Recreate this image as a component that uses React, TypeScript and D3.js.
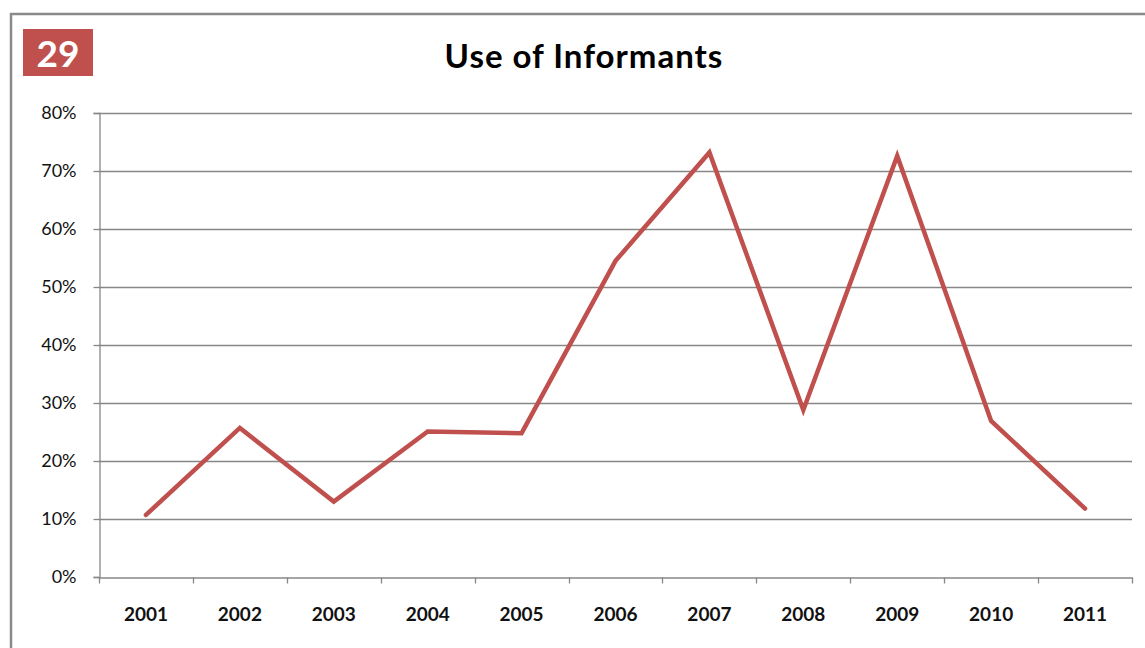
import * as d3 from 'd3';
import { useEffect, useRef } from 'react';

const years = ['2001', '2002', '2003', '2004', '2005', '2006', '2007', '2008', '2009', '2010', '2011'];
const informantShare = [10.7, 25.7, 13.0, 25.1, 24.8, 54.5, 73.2, 28.8, 72.6, 26.9, 11.8];
const yTicks = [0, 10, 20, 30, 40, 50, 60, 70, 80];

const chartTitle = 'Use of Informants';
const slideNumber = '29';

const W = 1145;
const H = 648;
const RED = '#C0504D';
const GREY = '#878787';

export default function App() {
	const ref = useRef<SVGSVGElement>(null);

	useEffect(() => {
		const svg = d3.select(ref.current);
		svg.selectAll('*').remove();

		// рамка слайда
		svg
			.append('rect')
			.attr('x', 11)
			.attr('y', 14)
			.attr('width', W + 20)
			.attr('height', H + 20)
			.attr('fill', 'white')
			.attr('stroke', '#8a8a8a')
			.attr('stroke-width', 2.5);

		// номер слайда
		svg.append('rect').attr('x', 23).attr('y', 29).attr('width', 70).attr('height', 47).attr('fill', RED);
		svg
			.append('text')
			.attr('x', 58)
			.attr('y', 67)
			.attr('text-anchor', 'middle')
			.attr('fill', 'white')
			.style('font', 'bold 37px Lato, "Open Sans", sans-serif')
			.text(slideNumber);

		svg
			.append('text')
			.attr('x', 584)
			.attr('y', 68)
			.attr('text-anchor', 'middle')
			.attr('fill', '#000')
			.style('font', 'bold 33px Lato, "Open Sans", sans-serif')
			.style('letter-spacing', '1px')
			.text(chartTitle);

		const margin = { left: 99, right: 1132, top: 113, bottom: 577 };

		const x = d3.scaleBand<string>().domain(years).range([margin.left, margin.right]);
		const y = d3.scaleLinear().domain([0, 80]).range([margin.bottom, margin.top]);

		// сетка
		svg
			.append('g')
			.selectAll('line')
			.data(yTicks.filter((t) => t > 0))
			.enter()
			.append('line')
			.attr('x1', margin.left)
			.attr('x2', margin.right)
			.attr('y1', (d) => Math.round(y(d)) + 0.5)
			.attr('y2', (d) => Math.round(y(d)) + 0.5)
			.attr('stroke', GREY)
			.attr('stroke-width', 1.3);

		// ось Y
		const yAxis = d3
			.axisLeft(y)
			.tickValues(yTicks)
			.tickSize(6)
			.tickPadding(17)
			.tickFormat((d) => `${d}%`);
		const gy = svg.append('g').attr('transform', `translate(${margin.left + 0.5},0)`).call(yAxis);
		gy.selectAll('line, path').attr('stroke', GREY).attr('stroke-width', 1.3);
		gy.selectAll('text')
			.attr('fill', '#111')
			.style('font', '400 18px Lato, "Open Sans", sans-serif');

		// ось X
		const xAxis = d3.axisBottom(x).tickSize(0).tickPadding(30);
		const gx = svg.append('g').attr('transform', `translate(0,${margin.bottom + 0.5})`).call(xAxis);
		gx.select('path').attr('stroke', GREY).attr('stroke-width', 1.3);
		gx.selectAll('text')
			.attr('fill', '#111')
			.style('font', 'bold 19px Lato, "Open Sans", sans-serif');
		const bounds = years.map((yr) => x(yr)!).concat([margin.right]);
		gx.selectAll('line.sep')
			.data(bounds)
			.enter()
			.append('line')
			.attr('class', 'sep')
			.attr('x1', (d) => Math.round(d) + 0.5)
			.attr('x2', (d) => Math.round(d) + 0.5)
			.attr('y1', 0)
			.attr('y2', 6)
			.attr('stroke', GREY)
			.attr('stroke-width', 1.3);

		// линия
		const line = d3
			.line<number>()
			.x((_, i) => x(years[i])! + x.bandwidth() / 2)
			.y((d) => y(d));
		svg
			.append('path')
			.datum(informantShare)
			.attr('d', line)
			.attr('fill', 'none')
			.attr('stroke', RED)
			.attr('stroke-width', 4.5)
			.attr('stroke-linejoin', 'miter')
			.attr('stroke-linecap', 'round');
	}, []);

	return (
		<svg
			ref={ref}
			width={W}
			height={H}
			style={{ position: 'absolute', left: 0, top: 0, background: 'white' }}
		></svg>
	);
}
